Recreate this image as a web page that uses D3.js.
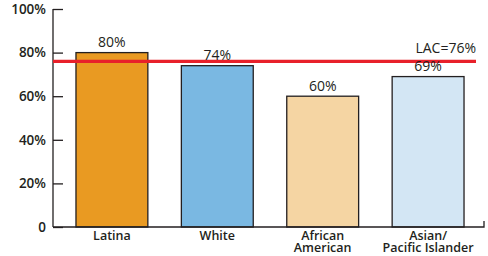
<!DOCTYPE html>
<html>
<head>
<meta charset="utf-8">
<script src="https://cdn.jsdelivr.net/npm/d3@7"></script>
<style>
  body { margin: 0; background: #fff; }
  text { font-family: "Open Sans", "Liberation Sans", sans-serif; fill: #231f20; }
</style>
</head>
<body>
<script>
const categories = [['Latina'], ['White'], ['African', 'American'], ['Asian/', 'Pacific Islander']];
const values = [80, 74, 60, 69];
const colors = ['#e99a22', '#7ab8e2', '#f5d5a3', '#d3e6f4'];
const lacValue = 76;
const yTicks = [0, 20, 40, 60, 80, 100];

const margin = {top: 9, bottom: 29, left: 53, right: 4};
const width = 488 - margin.left - margin.right,
    height = 256 - margin.top - margin.bottom;

const svg = d3.select('body')
    .append('svg')
    .attr('width', 488)
    .attr('height', 256)
    .append('g')
    .attr('transform', 'translate(' + margin.left + ', ' + margin.top + ')');

const scaleX = d3.scaleBand()
    .domain(d3.range(categories.length))
    .range([0, 434])
    .paddingInner(0.318)
    .paddingOuter(0.218);

const scaleY = d3.scaleLinear()
    .domain([0, 100])
    .range([height, 0]);

// y axis, ticks pointing into the plot
const yAxis = svg.append('g')
    .call(d3.axisRight(scaleY)
        .tickValues(yTicks)
        .tickSize(10)
        .tickFormat(d => d === 0 ? '0' : d + '%'));
yAxis.select('.domain').remove();
yAxis.selectAll('.tick line').attr('stroke', '#231f20').attr('stroke-width', 1.3);
yAxis.selectAll('.tick text')
    .attr('x', -7)
    .attr('text-anchor', 'end')
    .style('font-size', '13.5px')
    .style('font-weight', 600);

svg.append('line')
    .attr('x1', 0).attr('x2', 0)
    .attr('y1', 0).attr('y2', height)
    .attr('stroke', '#231f20').attr('stroke-width', 1.3);

// bars
svg.selectAll('rect.bar')
    .data(values)
    .enter()
    .append('rect')
    .attr('class', 'bar')
    .attr('x', (d, i) => scaleX(i))
    .attr('y', d => scaleY(d))
    .attr('width', scaleX.bandwidth())
    .attr('height', d => height - scaleY(d))
    .attr('fill', (d, i) => colors[i])
    .attr('stroke', '#231f20')
    .attr('stroke-width', 1.3);

// baseline with small end tick
svg.append('path')
    .attr('d', 'M0,' + height + 'H431V' + (height - 6))
    .attr('fill', 'none')
    .attr('stroke', '#231f20')
    .attr('stroke-width', 1.3);

// LAC reference line
svg.append('line')
    .attr('x1', 0).attr('x2', 423)
    .attr('y1', scaleY(lacValue)).attr('y2', scaleY(lacValue))
    .attr('stroke', '#e8202a')
    .attr('stroke-width', 3.2);

svg.append('text')
    .attr('x', 423)
    .attr('y', scaleY(lacValue) - 8)
    .attr('text-anchor', 'end')
    .style('font-size', '14px')
    .text('LAC=' + lacValue + '%');

// value labels
svg.selectAll('text.val')
    .data(values)
    .enter()
    .append('text')
    .attr('class', 'val')
    .attr('x', (d, i) => scaleX(i) + scaleX.bandwidth() / 2)
    .attr('y', d => scaleY(d) - 5.5)
    .attr('text-anchor', 'middle')
    .style('font-size', '14px')
    .text(d => d + '%');

// category labels
const cat = svg.selectAll('text.cat')
    .data(categories)
    .enter()
    .append('text')
    .attr('class', 'cat')
    .attr('text-anchor', 'middle')
    .attr('transform', (d, i) => 'translate(' + (scaleX(i) + scaleX.bandwidth() / 2) + ',' + (height + 12.5) + ')')
    .style('font-size', '12.5px')
    .style('font-weight', 600);

cat.selectAll('tspan')
    .data(d => d)
    .enter()
    .append('tspan')
    .attr('x', 0)
    .attr('dy', (d, i) => i === 0 ? 0 : 12.5)
    .text(d => d);
</script>
</body>
</html>
